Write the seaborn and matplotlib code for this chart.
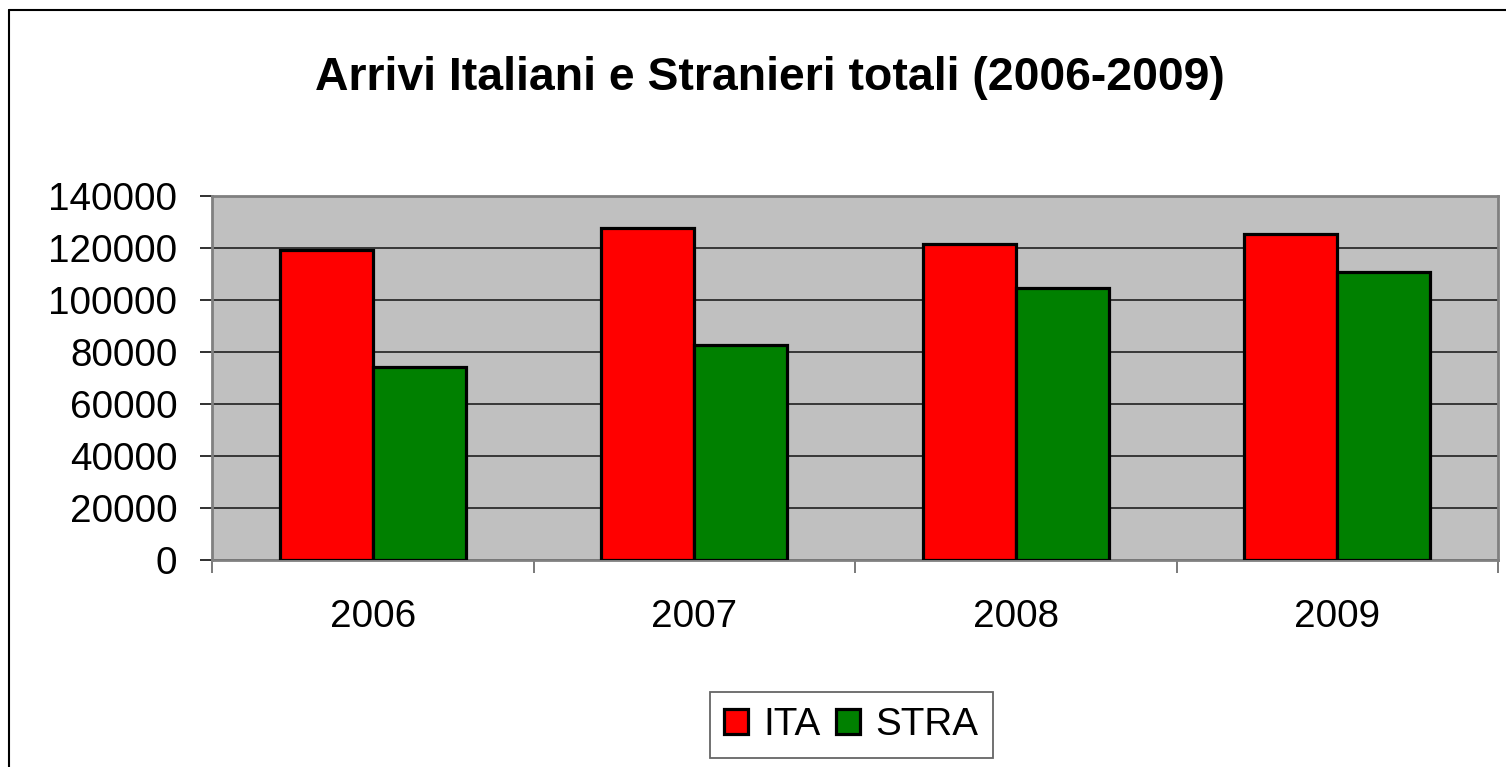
import matplotlib
matplotlib.use("Agg")
import matplotlib.pyplot as plt
import seaborn as sns
import pandas as pd
from matplotlib.lines import Line2D
from matplotlib.patches import Patch

years = ["2006", "2007", "2008", "2009"]
ita = [119200, 127800, 121500, 125300]
stra = [74100, 82700, 104700, 110600]
series = ["ITA", "STRA"]
colors = {"ITA": "#FF0000", "STRA": "#008000"}
yticks = [0, 20000, 40000, 60000, 80000, 100000, 120000, 140000]

df = pd.DataFrame({
    "Anno": years * 2,
    "Serie": ["ITA"] * len(years) + ["STRA"] * len(years),
    "Arrivi": ita + stra,
})

sns.set_theme(style="white")
plt.rcParams["font.family"] = ["Liberation Sans", "DejaVu Sans"]
plt.rcParams["text.color"] = "black"
plt.rcParams["xtick.color"] = "black"
plt.rcParams["ytick.color"] = "black"
plt.rcParams["axes.labelcolor"] = "black"

fig = plt.figure(figsize=(15.06, 7.67), dpi=100)
ax = fig.add_axes([212/1506, 1-560/767, (1498-212)/1506, (560-196)/767])
ax.set_facecolor("#C0C0C0")

sns.barplot(data=df, x="Anno", y="Arrivi", hue="Serie", order=years,
            hue_order=series, palette=colors, saturation=1, width=0.58, gap=0,
            edgecolor="black", linewidth=2.3, ax=ax, legend=False, zorder=3)

ax.set_xlim(-0.5, 3.5)
ax.set_ylim(0, 140000)
ax.set_yticks(yticks)
ax.set_yticklabels([str(v) for v in yticks], fontsize=27.8)
ax.yaxis.grid(True, color="#202020", linewidth=1.2, zorder=1)
ax.set_axisbelow(True)
ax.set_xlabel("")
ax.set_ylabel("")
ax.set_xticks(range(len(years)))
ax.set_xticklabels(years, fontsize=27.8)
ax.set_xticks([-0.5, 0.5, 1.5, 2.5, 3.5], minor=True)
ax.tick_params(axis="x", which="major", length=0, pad=28)
ax.tick_params(axis="x", which="minor", length=9, width=1.3, color="#707070", direction="out", bottom=True)
ax.tick_params(axis="y", which="major", length=9, width=1.3, color="#202020", direction="out", pad=16, left=True)
for s in ax.spines.values():
    s.set_visible(True)
    s.set_color("#808080")
    s.set_linewidth(2)

fig.text(0.511, 0.898, "Arrivi Italiani e Stranieri totali (2006-2009)",
         fontsize=33.4, fontweight="bold", ha="center", va="center", color="black")

handles = [Patch(facecolor=colors[s], edgecolor="black", linewidth=2.3, label=s) for s in series]
leg = fig.legend(handles=handles, loc="center", bbox_to_anchor=(851.5/1506, 1-725/767),
                 ncol=2, fontsize=27.8, frameon=True, fancybox=False,
                 handlelength=0.62, handleheight=0.62, handletextpad=0.4,
                 columnspacing=0.4, borderpad=0.38, borderaxespad=0)
leg.get_frame().set_edgecolor("#404040")
leg.get_frame().set_linewidth(1.3)
for t in leg.get_texts():
    t.set_color("black")

fig.add_artist(Line2D([9/1506, 9/1506], [0, 1-10/767], color="black", linewidth=1.5, transform=fig.transFigure))
fig.add_artist(Line2D([9/1506, 1], [1-10/767, 1-10/767], color="black", linewidth=1.5, transform=fig.transFigure))

fig.savefig("out.png", dpi=100, facecolor="white")
